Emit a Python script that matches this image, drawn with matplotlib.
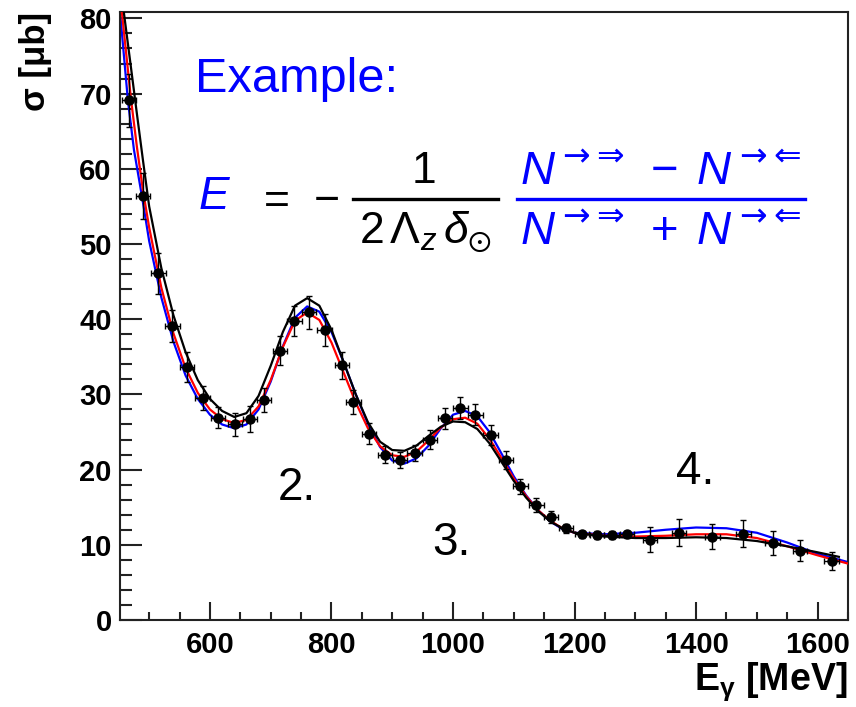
import matplotlib
matplotlib.use('Agg')
import matplotlib.pyplot as plt
from matplotlib.lines import Line2D
from matplotlib.ticker import MultipleLocator

#================================
# Data

# measured points (E_gamma [MeV], sigma [mub], error)
data_e = [467, 490, 515, 538, 562, 588, 613, 641, 666, 689, 715, 739, 763, 789,
          817, 836, 862, 888, 913, 937, 962, 987, 1012, 1037, 1062, 1087, 1111,
          1137, 1161, 1186, 1212, 1237, 1261, 1286, 1324, 1372, 1427, 1478, 1526,
          1571, 1623]
data_sigma = [69.1, 56.4, 46.1, 39.1, 33.7, 29.5, 26.9, 26.0, 26.7, 29.2, 35.8, 39.8,
              40.9, 38.6, 33.9, 29.0, 24.8, 22.0, 21.3, 22.2, 24.0, 26.8, 28.2, 27.3,
              24.6, 21.3, 17.8, 15.3, 13.7, 12.2, 11.4, 11.3, 11.3, 11.4, 10.7, 11.6,
              11.1, 11.5, 10.3, 9.2, 7.8]
data_err = [3.5, 3.1, 2.7, 2.1, 2.0, 1.6, 1.4, 1.5, 1.7, 1.6, 1.9, 2.0, 2.2, 2.1,
            1.8, 1.6, 1.4, 1.1, 1.1, 1.1, 1.3, 1.4, 1.5, 1.4, 1.3, 1.2, 1.0, 0.9,
            0.8, 0.6, 0.5, 0.5, 0.5, 0.5, 1.7, 1.8, 1.7, 1.8, 1.6, 1.4, 1.2]
bin_half = 12

# fit curves
black_e = [458, 470, 480, 490, 500, 520, 540, 560, 580, 600, 620, 640, 660, 680, 700,
           720, 740, 760, 780, 800, 820, 840, 860, 880, 900, 920, 940, 960, 980, 1000,
           1020, 1040, 1060, 1080, 1100, 1120, 1140, 1160, 1180, 1200, 1250, 1300,
           1350, 1400, 1450, 1500, 1550, 1600, 1635]
black_sigma = [81.0, 73.5, 67.2, 61.0, 55.0, 46.8, 40.5, 35.6, 31.9, 29.4, 27.8, 27.0,
               27.5, 29.8, 33.8, 38.3, 41.8, 42.8, 41.8, 38.6, 34.3, 30.0, 26.3, 23.7,
               22.6, 22.5, 23.2, 24.5, 25.7, 26.4, 26.3, 25.4, 23.5, 21.0, 18.5, 16.3,
               14.5, 13.1, 12.2, 11.6, 11.1, 10.9, 10.9, 11.0, 10.9, 10.5, 9.8, 9.0, 8.4]

red_e = [455, 470, 480, 490, 500, 520, 540, 560, 580, 600, 620, 640, 660, 680, 700,
         720, 740, 760, 780, 800, 820, 840, 860, 880, 900, 920, 940, 960, 980, 1000,
         1020, 1040, 1060, 1080, 1100, 1120, 1140, 1160, 1180, 1200, 1250, 1300,
         1350, 1400, 1450, 1500, 1550, 1600, 1650]
red_sigma = [80.9, 69.3, 62.8, 57.0, 52.2, 44.2, 38.1, 33.5, 30.2, 28.0, 26.7, 26.2,
             26.6, 28.4, 31.9, 36.3, 39.8, 40.9, 39.9, 36.9, 32.9, 28.9, 25.5, 23.1,
             21.9, 21.7, 22.4, 23.9, 25.6, 26.7, 26.9, 26.1, 24.1, 21.5, 18.8, 16.5,
             14.6, 13.2, 12.2, 11.6, 11.2, 11.1, 11.2, 11.4, 11.4, 10.9, 9.8, 8.6, 7.5]

blue_e = [452, 465, 475, 488, 500, 520, 540, 560, 580, 600, 620, 640, 660, 680, 700,
          720, 740, 760, 780, 800, 820, 840, 860, 880, 900, 920, 940, 960, 980, 1000,
          1020, 1040, 1060, 1080, 1100, 1120, 1140, 1160, 1180, 1200, 1250, 1300,
          1350, 1400, 1450, 1500, 1550, 1600, 1650]
blue_sigma = [80.9, 69.1, 62.5, 56.4, 50.4, 42.9, 37.0, 32.5, 29.4, 27.3, 26.0, 25.5,
              26.0, 28.0, 31.7, 36.4, 40.2, 41.7, 41.0, 38.3, 34.3, 30.0, 26.1, 23.0,
              21.2, 20.8, 21.5, 23.2, 25.5, 27.3, 27.8, 27.1, 25.0, 22.1, 19.1, 16.6,
              14.6, 13.1, 12.1, 11.6, 11.4, 11.6, 12.0, 12.3, 12.2, 11.6, 10.3, 8.8, 7.7]

x_ticks = [600, 800, 1000, 1200, 1400, 1600]
y_ticks = [0, 10, 20, 30, 40, 50, 60, 70, 80]

#================================
# Fonts
plt.rcParams['font.family'] = ['Liberation Sans', 'DejaVu Sans']
plt.rcParams['mathtext.fontset'] = 'custom'
plt.rcParams['mathtext.rm'] = 'Liberation Sans'
plt.rcParams['mathtext.it'] = 'Liberation Sans:italic'
plt.rcParams['mathtext.bf'] = 'Liberation Sans:bold'
plt.rcParams['mathtext.sf'] = 'DejaVu Sans'  # bigger arrows for the helicity marks
plt.rcParams['mathtext.fallback'] = 'stixsans'

W, H = 856, 707
fig = plt.figure(figsize=(W / 100, H / 100), dpi=100)
ax = fig.add_axes([120 / W, 1 - 620 / H, 728 / W, 608 / H])


def px(x, y):
    # pixel position -> figure fraction
    return x / W, 1 - y / H


def bar(x0, x1, y, color):
    # fraction bar drawn by hand, so its length and weight match
    fig.add_artist(Line2D([x0 / W, x1 / W], [1 - y / H, 1 - y / H],
                          transform=fig.transFigure, color=color, lw=2.4))


#================================
# Curves and points
ax.plot(blue_e, blue_sigma, color='#0000ff', lw=1.6, zorder=2)
ax.plot(red_e, red_sigma, color='#ff0000', lw=1.6, zorder=3)
ax.plot(black_e, black_sigma, color='black', lw=1.6, zorder=4)
ax.errorbar(data_e, data_sigma, yerr=data_err, xerr=bin_half, fmt='o', color='black',
            ms=6.5, elinewidth=1.0, capsize=2.5, capthick=1.0, zorder=5)

ax.set_xlim(452, 1650)
ax.set_ylim(0, 80.85)

ax.set_xticks(x_ticks)
ax.set_yticks(y_ticks)
ax.xaxis.set_minor_locator(MultipleLocator(50))
ax.yaxis.set_minor_locator(MultipleLocator(2))
ax.tick_params(which='both', direction='in', top=False, right=False, width=1.5,
               color='#222222')
ax.tick_params(axis='x', which='major', length=13, pad=8)
ax.tick_params(axis='x', which='minor', length=6)
ax.tick_params(axis='y', which='major', length=16, pad=6)
ax.tick_params(axis='y', which='minor', length=8.5)
for lab in ax.get_xticklabels() + ax.get_yticklabels():
    lab.set_fontsize(21)
    lab.set_fontweight('bold')
for sp in ax.spines.values():
    sp.set_linewidth(1.5)
    sp.set_color('#222222')

# axis titles
fig.text(*px(847, 682), r'E$_{\mathbf{\gamma}}$ [MeV]', fontsize=27, fontweight='bold',
         ha='right', va='center')
fig.text(*px(35, 12), 'σ [μb]', fontsize=25, fontweight='bold', rotation=90,
         ha='center', va='top')

#================================
# Annotations
fig.text(*px(195, 92), 'Example:', fontsize=35, color='#0000ff', va='baseline')

fig.text(*px(198, 197), r'$E$', fontsize=33, color='#0000ff', va='center', ha='left')
fig.text(*px(273, 200), r'$=$', fontsize=32, color='black', va='center', ha='center')
fig.text(*px(326, 200), r'$-$', fontsize=32, color='black', va='center', ha='center')

# black fraction
fig.text(*px(423, 183), r'$1$', fontsize=32, color='black', va='baseline', ha='center')
bar(353, 498, 199, 'black')
fig.text(*px(425, 243), r'$2\,\Lambda_z\,\delta_{\odot}$', fontsize=32, color='black',
         va='baseline', ha='center')

# blue fraction
num = r'$N^{\mathsf{\rightarrow\!\Rightarrow}}\;-\;N^{\mathsf{\rightarrow\!\Leftarrow}}$'
den = r'$N^{\mathsf{\rightarrow\!\Rightarrow}}\;+\;N^{\mathsf{\rightarrow\!\Leftarrow}}$'
fig.text(*px(661, 185), num, fontsize=34, color='#0000ff', va='baseline', ha='center')
bar(517, 805, 199, '#0000ff')
fig.text(*px(661, 245), den, fontsize=34, color='#0000ff', va='baseline', ha='center')

fig.text(*px(278, 500), '2.', fontsize=33, va='baseline')
fig.text(*px(432, 555), '3.', fontsize=33, va='baseline')
fig.text(*px(676, 484), '4.', fontsize=33, va='baseline')

fig.savefig('out.png', dpi=100)
